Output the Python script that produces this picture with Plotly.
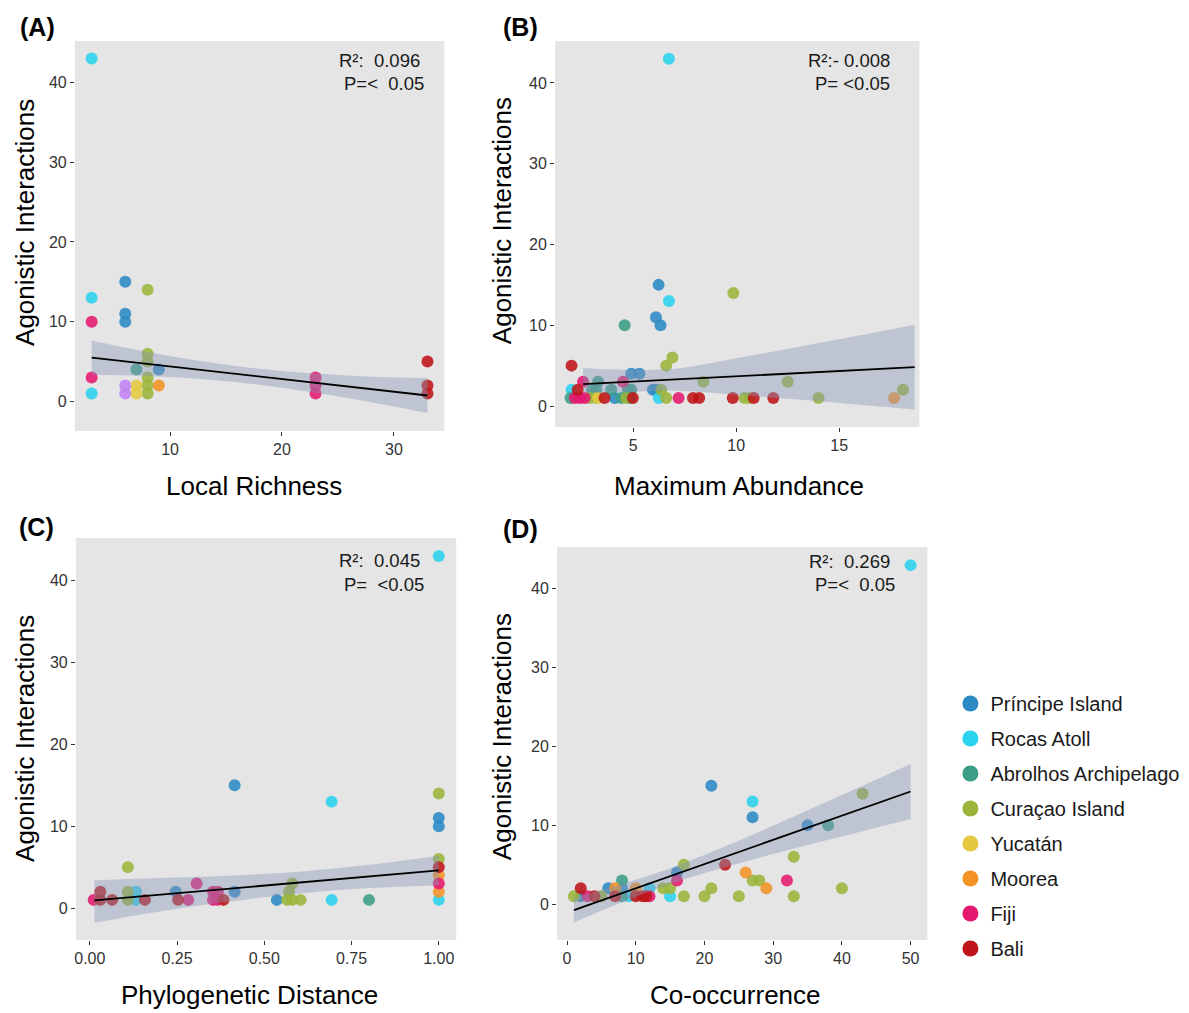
import plotly.graph_objects as go

W, H = 1189, 1013

SITES = ["Príncipe Island", "Rocas Atoll", "Abrolhos Archipelago", "Curaçao Island",
         "Yucatán", "Moorea", "Fiji", "Bali"]
SITE_CODES = ["P", "R", "Ab", "C", "Y", "M", "F", "B"]
SITE_COLORS = ["#2b8ac4", "#2ad3ee", "#3a9e86", "#9ab53a", "#e5c840", "#f39325", "#e5186f", "#bf1419"]
EXTRA_CODE, EXTRA_COLOR = "V", "#c382f2"   # unlabelled violet points in panel A

# ---------------- Panel A: Local Richness ----------------
A_x = [3, 3, 3, 3, 3, 6, 6, 6, 6, 6, 7, 7, 7, 8, 8, 8, 8, 8, 8, 9, 9, 23, 23, 23, 33, 33, 33]
A_y = [43, 13, 10, 3, 1, 15, 11, 10, 2, 1, 4, 2, 1, 14, 6, 5, 3, 2, 1, 4, 2, 3, 2, 1, 5, 2, 1]
A_s = ["R", "R", "F", "F", "R", "P", "P", "P", "V", "V", "Ab", "Y", "Y", "C", "C", "C", "C", "C", "C",
       "P", "M", "F", "F", "F", "B", "B", "B"]
A_band_x = [3, 8, 13, 18, 23, 28, 33]
A_fit = [5.5, 4.71, 3.92, 3.13, 2.33, 1.54, 0.75]
A_hi = [7.65, 6.2, 5.0, 4.1, 3.5, 3.1, 2.95]
A_lo = [3.35, 3.2, 2.8, 2.1, 1.1, -0.1, -1.45]

# ---------------- Panel B: Maximum Abundance ----------------
B_x = [6.73, 6.73, 6.24, 2.0,
       6.23, 6.1, 6.32, 5.95, 6.1, 4.9, 5.3, 4.1,
       4.58, 3.29, 3.0, 3.2, 3.93, 4.74, 4.9, 1.95, 4.42, 4.85,
       9.86, 6.9, 6.6, 8.4, 12.5, 18.1, 14.0, 6.36, 6.6, 10.4, 10.64, 2.88, 3.2, 4.66,
       2.0, 2.3, 3.6, 7.9, 8.2, 9.83, 10.85, 11.8, 4.98,
       2.56, 4.5, 2.16, 2.4, 2.64, 7.2,
       3.29, 17.67]
B_y = [43, 13, 1, 2,
       15, 11, 10, 2, 2, 4, 4, 1,
       10, 3, 2, 2, 2, 2, 2, 1, 1, 1,
       14, 6, 5, 3, 3, 2, 1, 2, 1, 1, 1, 1, 1, 1,
       5, 2, 1, 1, 1, 1, 1, 1, 1,
       3, 3, 1, 1, 1, 1,
       1, 1]
B_s = ["R", "R", "R", "R",
       "P", "P", "P", "P", "P", "P", "P", "P",
       "Ab", "Ab", "Ab", "Ab", "Ab", "Ab", "Ab", "Ab", "Ab", "Ab",
       "C", "C", "C", "C", "C", "C", "C", "C", "C", "C", "C", "C", "C", "C",
       "B", "B", "B", "B", "B", "B", "B", "B", "B",
       "F", "F", "F", "F", "F", "F",
       "Y", "M"]
B_band_x = [2.56, 4.5, 7, 10, 13, 16, 18.67]
B_fit = [2.7, 2.95, 3.28, 3.68, 4.08, 4.48, 4.81]
B_hi = [4.7, 4.5, 4.6, 5.9, 7.3, 8.75, 10.06]
B_lo = [1.6, 1.7, 1.9, 1.4, 0.8, 0.15, -0.44]

# ---------------- Panel C: Phylogenetic Distance ----------------
C_x = [1.0, 0.693, 0.693, 1.0, 0.132, 0.132,
       0.415, 1.0, 1.0, 0.415, 0.246, 0.536,
       1.0, 1.0, 0.109, 0.109, 0.109, 0.58, 0.571, 0.565, 0.58, 0.604,
       1.0, 0.03, 0.03, 0.064, 0.158, 0.253, 0.383,
       1.0, 1.0,
       1.0, 0.011, 0.306, 0.353, 0.367, 0.353, 0.367, 0.282,
       0.8]
C_y = [43, 13, 1, 1, 2, 1,
       15, 11, 10, 2, 2, 1,
       14, 6, 5, 2, 1, 3, 2, 1, 1, 1,
       5, 2, 1, 1, 1, 1, 1,
       4, 2,
       3, 1, 3, 2, 2, 1, 1, 1,
       1]
C_s = ["R", "R", "R", "R", "R", "R",
       "P", "P", "P", "P", "P", "P",
       "C", "C", "C", "C", "C", "C", "C", "C", "C", "C",
       "B", "B", "B", "B", "B", "B", "B",
       "M", "M",
       "F", "F", "F", "F", "F", "F", "F", "F",
       "Ab"]
C_band_x = [0.013, 0.2, 0.4, 0.6, 0.8, 1.0]
C_fit = [0.94, 1.63, 2.38, 3.12, 3.86, 4.6]
C_hi = [3.4, 3.68, 3.96, 4.45, 5.28, 6.4]
C_lo = [-1.8, -0.42, 0.8, 1.79, 2.44, 2.8]

# ---------------- Panel D: Co-occurrence ----------------
D_x = [50, 27, 15, 9, 12,
       21, 27, 35, 16, 2, 6, 8,
       38, 8, 8,
       43, 33, 33, 40, 27, 28, 17, 14, 15, 21, 17, 20, 25, 1, 5,
       23, 2, 4, 7, 10, 11, 11.5,
       26, 29, 7, 10,
       32, 16, 3, 12]
D_y = [43, 13, 1, 1, 2,
       15, 11, 10, 4, 1, 2, 2,
       10, 3, 1,
       14, 6, 1, 2, 3, 3, 5, 2, 2, 2, 1, 1, 1, 1, 1,
       5, 2, 1, 1, 1, 1, 1,
       4, 2, 2, 2,
       3, 3, 1, 1]
D_s = ["R", "R", "R", "R", "R",
       "P", "P", "P", "P", "P", "P", "P",
       "Ab", "Ab", "Ab",
       "C", "C", "C", "C", "C", "C", "C", "C", "C", "C", "C", "C", "C", "C", "C",
       "B", "B", "B", "B", "B", "B", "B",
       "M", "M", "M", "M",
       "F", "F", "F", "F"]
D_band_x = [1, 8, 15, 22, 29, 36, 43, 50]
D_fit = [-0.76, 1.39, 3.54, 5.69, 7.84, 9.99, 12.13, 14.28]
D_hi = [0.81, 2.54, 4.54, 6.94, 9.56, 12.27, 15.01, 17.78]
D_lo = [-2.33, 0.24, 2.54, 4.44, 6.12, 7.71, 9.25, 10.78]

X_TITLES = ["Local Richness", "Maximum Abundance", "Phylogenetic Distance", "Co-occurrence"]
Y_TITLE = "Agonistic Interactions"
PANEL_LABELS = ["(A)", "(B)", "(C)", "(D)"]
STATS_R2 = ["R²:\u00a0 0.096", "R²:- 0.008", "R²:\u00a0 0.045", "R²:\u00a0 0.269"]
STATS_P = ["P=<\u00a0 0.05", "P= <0.05", "P=\u00a0 <0.05", "P=<\u00a0 0.05"]

Y_TICKS = [0, 10, 20, 30, 40]
A_XTICKS = [10, 20, 30]
B_XTICKS = [5, 10, 15]
C_XTICKS = [0, 0.25, 0.5, 0.75, 1.0]
C_XTICKTEXT = ["0.00", "0.25", "0.50", "0.75", "1.00"]
D_XTICKS = [0, 10, 20, 30, 40, 50]

FONT = "Liberation Sans, Arial, sans-serif"

panels = [
    dict(x=A_x, y=A_y, s=A_s, bx=A_band_x, fit=A_fit, hi=A_hi, lo=A_lo,
         xr=[1.5, 34.5], yr=[-3.7, 45.2], xt=A_XTICKS, xtt=None,
         dom_px=(73, 443, 41, 431)),
    dict(x=B_x, y=B_y, s=B_s, bx=B_band_x, fit=B_fit, hi=B_hi, lo=B_lo,
         xr=[1.2, 18.9], yr=[-2.6, 45.2], xt=B_XTICKS, xtt=None,
         dom_px=(554, 919, 41, 427)),
    dict(x=C_x, y=C_y, s=C_s, bx=C_band_x, fit=C_fit, hi=C_hi, lo=C_lo,
         xr=[-0.04, 1.05], yr=[-3.9, 45.2], xt=C_XTICKS, xtt=C_XTICKTEXT,
         dom_px=(74, 455, 538, 940)),
    dict(x=D_x, y=D_y, s=D_s, bx=D_band_x, fit=D_fit, hi=D_hi, lo=D_lo,
         xr=[-1.45, 52.45], yr=[-4.56, 45.3], xt=D_XTICKS, xtt=None,
         dom_px=(556, 927, 547, 940)),
]

fig = go.Figure()
layout = {}
codes_all = SITE_CODES + [EXTRA_CODE]
colors_all = SITE_COLORS + [EXTRA_COLOR]

for i, p in enumerate(panels):
    n = "" if i == 0 else str(i + 1)
    xa, ya = "x" + n, "y" + n
    for code, col in zip(codes_all, colors_all):
        xs = [xv for xv, sv in zip(p["x"], p["s"]) if sv == code]
        ys = [yv for yv, sv in zip(p["y"], p["s"]) if sv == code]
        if not xs:
            continue
        fig.add_trace(go.Scatter(x=xs, y=ys, mode="markers", xaxis=xa, yaxis=ya,
                                 marker=dict(size=12, color=col, opacity=0.88, line=dict(width=0)),
                                 showlegend=False, hoverinfo="x+y"))
    fig.add_trace(go.Scatter(x=p["bx"], y=p["hi"], mode="lines", xaxis=xa, yaxis=ya,
                             line=dict(width=0, shape="spline"), showlegend=False, hoverinfo="skip"))
    fig.add_trace(go.Scatter(x=p["bx"], y=p["lo"], mode="lines", xaxis=xa, yaxis=ya,
                             line=dict(width=0, shape="spline"), fill="tonexty",
                             fillcolor="rgba(135,150,182,0.42)", showlegend=False, hoverinfo="skip"))
    fig.add_trace(go.Scatter(x=[p["bx"][0], p["bx"][-1]], y=[p["fit"][0], p["fit"][-1]],
                             mode="lines", xaxis=xa, yaxis=ya,
                             line=dict(color="black", width=1.8), showlegend=False, hoverinfo="skip"))

    x0, x1, y0, y1 = p["dom_px"]
    common = dict(showgrid=False, zeroline=False, showline=False, ticks="outside", ticklen=4,
                  tickwidth=1, tickcolor="#333333", tickfont=dict(size=16, color="#333333", family=FONT))
    xdict = dict(domain=[x0 / W, x1 / W], range=p["xr"], tickvals=p["xt"], anchor=ya, **common)
    if p["xtt"]:
        xdict["ticktext"] = p["xtt"]
    layout["xaxis" + n] = xdict
    layout["yaxis" + n] = dict(domain=[1 - y1 / H, 1 - y0 / H], range=p["yr"], tickvals=Y_TICKS,
                               anchor=xa, **common)

for k, (name, col) in enumerate(zip(SITES, SITE_COLORS)):
    fig.add_trace(go.Scatter(x=[None], y=[None], mode="markers", name=name,
                             marker=dict(size=17, color=col), legendgroup=str(k),
                             showlegend=True))


def px_ann(text, x, y, size, xanchor="center", yanchor="middle", angle=0, bold=False, color="black"):
    return dict(text=("<b>%s</b>" % text) if bold else text, x=x / W, y=1 - y / H,
                xref="paper", yref="paper", showarrow=False, xanchor=xanchor, yanchor=yanchor,
                textangle=angle, font=dict(size=size, color=color, family=FONT))


anns = []
ytitle_pos = [(23, 222), (501, 221), (23, 738), (501, 737)]
xtitle_pos = [(252, 486), (738, 486), (248, 995), (735, 995)]
label_pos = [(36, 27), (519, 27), (35, 527), (519, 529)]
r2_pos = [(421, 60.5), (892, 60.5), (421, 560), (892, 561)]
p_pos = [(425, 83), (891, 83), (425, 584), (897, 584)]
for i in range(4):
    anns.append(px_ann(Y_TITLE, *ytitle_pos[i], 26, angle=-90))
    anns.append(px_ann(X_TITLES[i], *xtitle_pos[i], 26))
    anns.append(px_ann(PANEL_LABELS[i], *label_pos[i], 25, bold=True))
    anns.append(px_ann(STATS_R2[i], *r2_pos[i], 18.5, xanchor="right", color="#1a1a1a"))
    anns.append(px_ann(STATS_P[i], *p_pos[i], 18.5, xanchor="right", color="#1a1a1a"))

fig.update_layout(
    width=W, height=H, margin=dict(l=0, r=0, t=0, b=0),
    paper_bgcolor="white", plot_bgcolor="#e5e5e5",
    font=dict(family=FONT, color="black"),
    annotations=anns,
    legend=dict(x=950 / W, y=1 - 684 / H, xanchor="left", yanchor="top",
                font=dict(size=20, family=FONT, color="#1a1a1a"),
                tracegroupgap=6, bgcolor="rgba(0,0,0,0)", itemsizing="trace"),
    **layout,
)

fig.write_html("out.html", config={"displayModeBar": False},
               post_script="document.body.style.margin='0';document.body.style.overflow='hidden';")
